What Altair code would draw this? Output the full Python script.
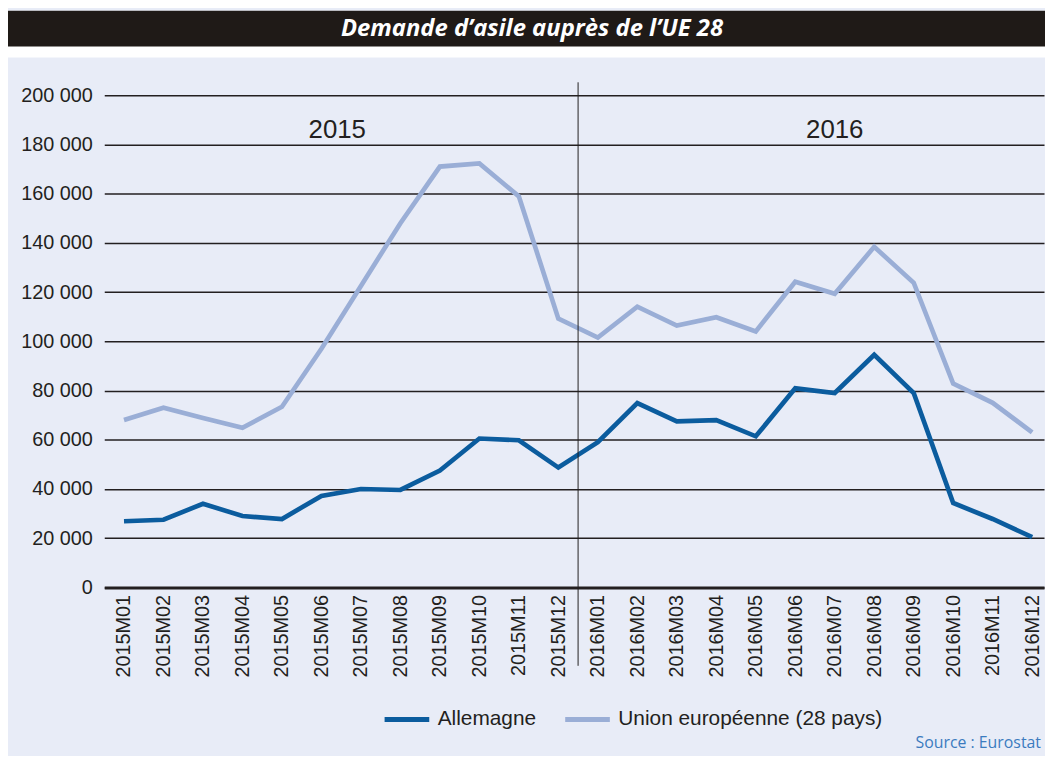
import altair as alt
import pandas as pd

# ---------------- data ----------------
months = ["2015M01", "2015M02", "2015M03", "2015M04", "2015M05", "2015M06",
          "2015M07", "2015M08", "2015M09", "2015M10", "2015M11", "2015M12",
          "2016M01", "2016M02", "2016M03", "2016M04", "2016M05", "2016M06",
          "2016M07", "2016M08", "2016M09", "2016M10", "2016M11", "2016M12"]
allemagne = [26900, 27500, 34000, 29000, 27800, 37200, 40000, 39600, 47500, 60500, 59800, 48700,
             59000, 74900, 67500, 68000, 61400, 80900, 79000, 94500, 79000, 34300, 27800, 20400]
ue28 = [68000, 73000, 68800, 64900, 73400, 97000, 122500, 148000, 171000, 172300, 158900, 109200,
        101500, 114100, 106400, 109800, 104000, 124200, 119300, 138400, 123800, 82800, 75000, 63000]
series_names = ["Allemagne", "Union européenne (28 pays)"]
series_colors = ["#0b5c9e", "#9aaed6"]
year_labels = ["2015", "2016"]
year_pos = [5.4, 18.0]
year_val = [186000, 186000]
year_boundary = [11.5]
y_ticks = list(range(0, 200001, 20000))
title_text = "Demande d’asile auprès de l’UE 28"
source_text = "Source : Eurostat"

rows = []
for i, m in enumerate(months):
    rows.append({"i": i, "month": m, "serie": series_names[0], "v": allemagne[i]})
    rows.append({"i": i, "month": m, "serie": series_names[1], "v": ue28[i]})
df = pd.DataFrame(rows)

# ---------------- layout ----------------
W, H = 947, 496
PAD_L, PAD_T, PAD_R, PAD_B = 97, 85, 1, 167
DARK = "#231f20"
FONT = "Liberation Sans, Arial, sans-serif"

label_expr = "[" + ",".join("'%s'" % m for m in months) + "][datum.value]"
xscale = alt.Scale(domain=[-0.5, 23.3], nice=False, zero=False)
yscale = alt.Scale(domain=[0, 200000], nice=False)

one = pd.DataFrame({"a": [0]})

white_top = alt.Chart(one).mark_rect(color="white").encode(
    x=alt.value(-PAD_L), x2=alt.value(W + PAD_R),
    y=alt.value(-PAD_T), y2=alt.value(-38))

title_bar = alt.Chart(one).mark_rect(color="#1f1a17").encode(
    x=alt.value(-PAD_L), x2=alt.value(W + PAD_R),
    y=alt.value(-PAD_T), y2=alt.value(-49))

title = alt.Chart(one).mark_text(
    text=title_text, color="white", fontSize=24, fontWeight="bold", fontStyle="italic",
    font="Open Sans, Liberation Sans, sans-serif", align="center", baseline="middle"
).encode(x=alt.value(431), y=alt.value(-67))

lines = alt.Chart(df).mark_line(strokeWidth=4.7).encode(
    x=alt.X("i:Q", scale=xscale,
            axis=alt.Axis(values=list(range(len(months))), labelExpr=label_expr,
                          labelAngle=270, labelAlign="right", labelBaseline="middle",
                          labelFontSize=20, labelFont=FONT, labelColor=DARK,
                          labelPadding=7, labelOverlap=False, labelFlush=False,
                          ticks=False, grid=False, domain=True, domainColor=DARK,
                          domainWidth=3, title=None)),
    y=alt.Y("v:Q", scale=yscale,
            axis=alt.Axis(values=y_ticks,
                          labelExpr="replace(format(datum.value, ','), ',', ' ')",
                          labelFontSize=20, labelFont=FONT, labelColor=DARK,
                          labelPadding=12, ticks=False, domain=False,
                          grid=True, gridColor=DARK, gridWidth=1.5, gridOpacity=1,
                          title=None)),
    color=alt.Color("serie:N",
                    scale=alt.Scale(domain=series_names, range=series_colors),
                    sort=series_names,
                    legend=alt.Legend(orient="none", legendX=280, legendY=604,
                                      direction="horizontal", title=None,
                                      symbolType="stroke", symbolSize=2025,
                                      symbolStrokeWidth=5, labelFontSize=21,
                                      labelFont=FONT, labelColor=DARK, labelLimit=0,
                                      columnPadding=18, labelOffset=6, padding=0)),
)

rule = alt.Chart(pd.DataFrame({"i": year_boundary})).mark_rule(
    color=DARK, strokeWidth=1).encode(
    x=alt.X("i:Q", scale=xscale),
    y=alt.value(-13), y2=alt.value(575))

years = alt.Chart(pd.DataFrame({"i": year_pos, "v": year_val, "t": year_labels})).mark_text(
    fontSize=26, font=FONT, color=DARK, align="center", baseline="middle").encode(
    x=alt.X("i:Q", scale=xscale),
    y=alt.Y("v:Q", scale=yscale),
    text="t:N")

source = alt.Chart(one).mark_text(
    text=source_text, color="#3b7bbf", fontSize=16,
    font="Liberation Sans Narrow, Open Sans, sans-serif", align="right", baseline="middle"
).encode(x=alt.value(944), y=alt.value(653))

chart = alt.layer(white_top, title_bar, title, lines, rule, years, source).properties(
    width=W, height=H,
    autosize=alt.AutoSizeParams(type="none"),
    padding={"left": PAD_L, "top": PAD_T, "right": PAD_R, "bottom": PAD_B},
).configure(background="#e8ecf7").configure_view(stroke=None)

chart.save("out.html", embed_options={"renderer": "svg", "actions": False})
